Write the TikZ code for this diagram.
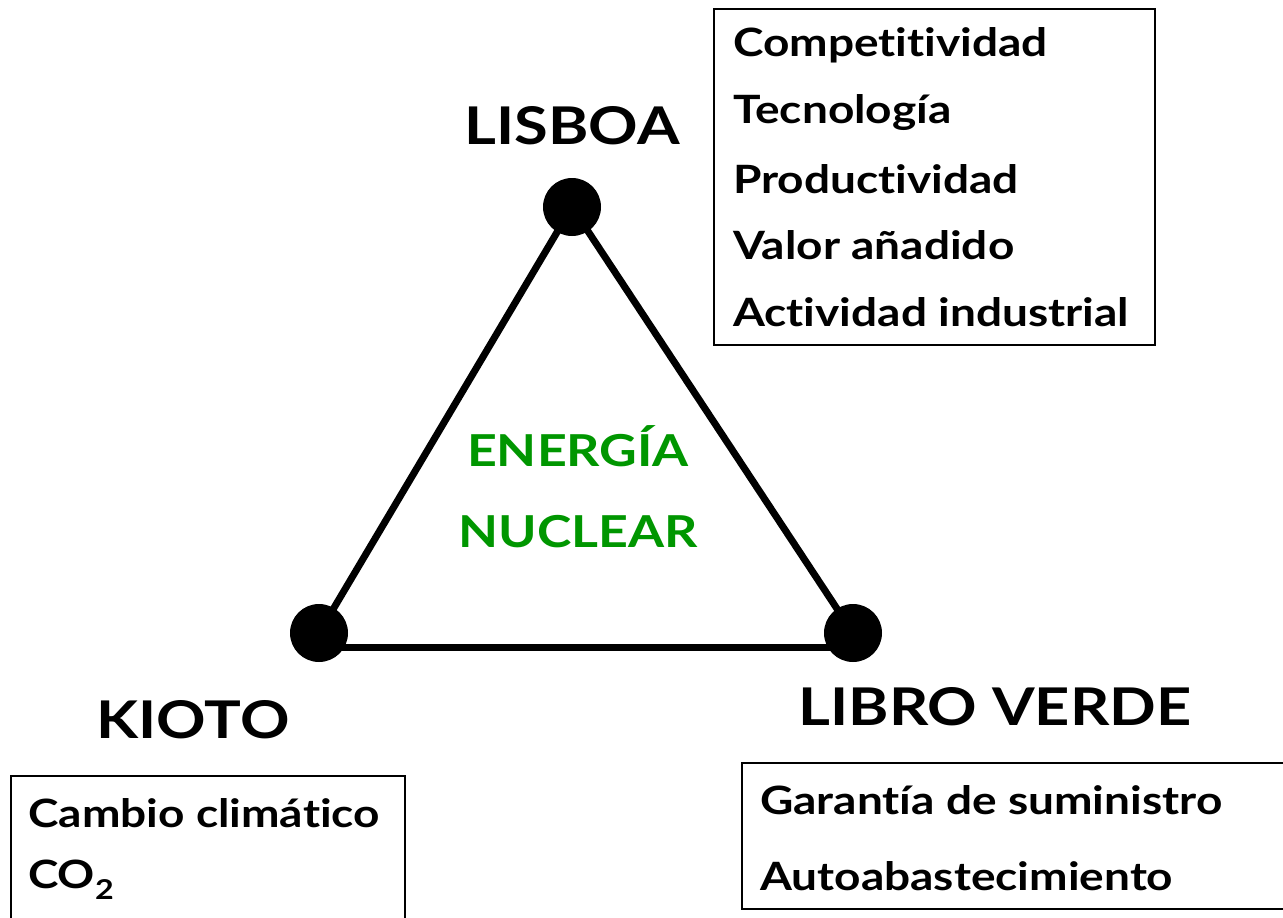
\documentclass[tikz,border=0pt]{standalone}
\usepackage{fontspec}
\setmainfont{Lato}[Ligatures={NoCommon},FakeStretch=1.18]
\definecolor{nucgreen}{RGB}{0,150,0}
\begin{document}
\begin{tikzpicture}[x=1pt,y=-1pt,
  dot/.style={circle,fill=black,minimum size=58pt,inner sep=0pt},
  edge/.style={line width=7pt},
  title/.style={font=\fontsize{52}{52}\selectfont\bfseries,inner sep=0pt},
  item/.style={font=\fontsize{39}{39}\selectfont\bfseries,anchor=west,inner sep=0pt},
  center/.style={font=\fontsize{44}{44}\selectfont\bfseries,text=nucgreen,inner sep=0pt},
  frame/.style={draw,line width=1.8pt,anchor=north west,inner sep=0pt}]
\useasboundingbox (0,0) rectangle (1283,918);
\node[dot] (top) at (572,207) {};
\node[dot] (kl) at (319,633) {};
\node[dot] (kr) at (853,633) {};
\draw[edge] (top.center) -- (kl.center);
\draw[edge] (top.center) -- (kr.center);
\draw[edge] ([yshift=-14pt]kl.center) -- ([yshift=-14pt]kr.center);
\node[title] (lisboa) at (572,126) {LISBOA};
\node[title] (kioto) at (193,720) {KIOTO};
\node[title] (libro) at (995,707) {LIBRO VERDE};
\node[center] (en1) at (578,446) {ENERGÍA};
\node[center] (en2) at (578,532) {NUCLEAR};
\node[frame,minimum width=441pt,minimum height=336pt] (box1) at (713,8) {};
\node[item] (c1) at (733,45) {Competitividad};
\node[item] (c2) at (733,113) {Tecnología};
\node[item] (c3) at (733,179) {Productividad};
\node[item] (c4) at (733,245) {Valor añadido};
\node[item] (c5) at (733,312) {Actividad industrial};
\node[frame,minimum width=394pt,minimum height=160pt] (box2) at (10,775) {};
\node[item] (k1) at (28,813) {Cambio climático};
\node[item] (k2) at (28,880) {CO\textsubscript{2}};
\node[frame,minimum width=560pt,minimum height=146pt] (box3) at (741,762) {};
\node[item] (l1) at (760,800) {Garantía de suministro};
\node[item] (l2) at (760,876) {Autoabastecimiento};
\end{tikzpicture}
\end{document}
